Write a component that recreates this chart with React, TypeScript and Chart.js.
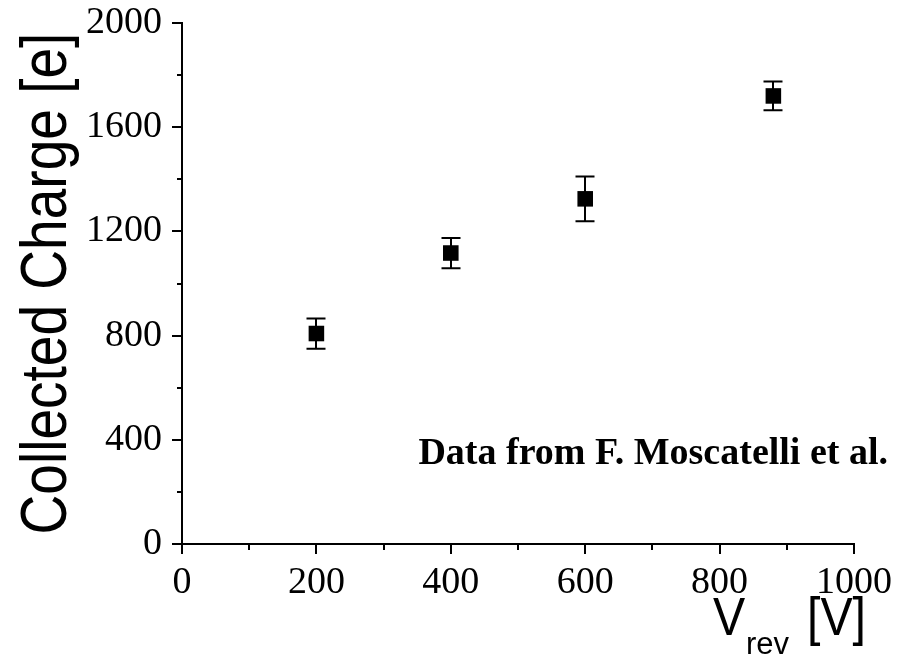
import React, { useEffect, useRef } from "react";
import { Chart, registerables } from "chart.js";

Chart.register(...registerables);

// Reverse bias voltage [V] and collected charge [e] with its uncertainty
const voltages = [200, 400, 600, 880];
const charges = [808, 1117, 1325, 1720];
const chargeErrors = [58, 58, 86, 55];

// Axis ranges and tick spacing
const xMin = 0;
const xMax = 1000;
const xMajorStep = 200;
const xMinorTicks = [100, 300, 500, 700, 900];
const yMin = 0;
const yMax = 2000;
const yMajorStep = 400;
const yMinorTicks = [200, 600, 1000, 1400, 1800];

// Texts
const yTitle = "Collected Charge [e]";
const xTitleSymbol = "V";
const xTitleSubscript = "rev";
const xTitleUnit = "[V]";
const sourceNote = "Data from F. Moscatelli et al.";

const SANS = '"Liberation Sans", Arial, sans-serif';
const SERIF = '"Liberation Serif", "Times New Roman", serif';

const decorations = {
  id: "decorations",
  beforeDatasetsDraw(chart: any) {
    const { ctx, scales } = chart;
    const x = scales.x;
    const y = scales.y;
    ctx.save();
    ctx.strokeStyle = "#000";
    ctx.lineWidth = 2;
    const cap = 9.5;
    voltages.forEach((v, i) => {
      const px = Math.round(x.getPixelForValue(v));
      const top = y.getPixelForValue(charges[i] + chargeErrors[i]);
      const bot = y.getPixelForValue(charges[i] - chargeErrors[i]);
      ctx.beginPath();
      ctx.moveTo(px, top);
      ctx.lineTo(px, bot);
      ctx.moveTo(px - cap, top);
      ctx.lineTo(px + cap, top);
      ctx.moveTo(px - cap, bot);
      ctx.lineTo(px + cap, bot);
      ctx.stroke();
    });
    ctx.restore();
  },
  afterDraw(chart: any) {
    const { ctx, scales, chartArea } = chart;
    const x = scales.x;
    const y = scales.y;
    ctx.save();

    // minor ticks, outside the axes
    ctx.strokeStyle = "#000";
    ctx.lineWidth = 2;
    ctx.beginPath();
    xMinorTicks.forEach((v) => {
      const px = Math.round(x.getPixelForValue(v));
      ctx.moveTo(px, chartArea.bottom);
      ctx.lineTo(px, chartArea.bottom + 6);
    });
    yMinorTicks.forEach((v) => {
      const py = Math.round(y.getPixelForValue(v));
      ctx.moveTo(chartArea.left, py);
      ctx.lineTo(chartArea.left - 5, py);
    });
    ctx.stroke();

    ctx.fillStyle = "#000";

    // y title, rotated
    ctx.save();
    ctx.translate(chartArea.left - 116, (chartArea.top + chartArea.bottom) / 2);
    ctx.rotate(-Math.PI / 2);
    ctx.scale(0.86, 1);
    ctx.font = `64px ${SANS}`;
    ctx.textAlign = "center";
    ctx.textBaseline = "alphabetic";
    ctx.fillText(yTitle, 0, 0);
    ctx.restore();

    // x title with subscript
    ctx.textAlign = "left";
    ctx.textBaseline = "alphabetic";
    const base = chart.height - 21;
    ctx.save();
    ctx.translate(chartArea.right - 141, base);
    ctx.scale(0.91, 1);
    ctx.font = `53px ${SANS}`;
    ctx.fillText(xTitleSymbol, 0, 0);
    ctx.restore();
    ctx.font = `31px ${SANS}`;
    ctx.fillText(xTitleSubscript, chartArea.right - 108, base + 19);
    ctx.save();
    ctx.translate(chartArea.right - 47, base);
    ctx.scale(0.91, 1);
    ctx.font = `53px ${SANS}`;
    ctx.fillText(xTitleUnit, 0, 0);
    ctx.restore();

    // source note
    ctx.font = `bold 38px ${SERIF}`;
    ctx.textAlign = "right";
    ctx.textBaseline = "alphabetic";
    ctx.fillText(sourceNote, chartArea.right + 34, y.getPixelForValue(307));

    ctx.restore();
  },
};

export default function App() {
  const canvasRef = useRef<HTMLCanvasElement | null>(null);

  useEffect(() => {
    const canvas = canvasRef.current;
    if (!canvas) return;
    const tickFont = { family: SERIF, size: 38 };
    const plainLabel = (value: any) => String(value);
    const chart = new Chart(canvas, {
      type: "scatter",
      data: {
        datasets: [
          {
            label: "Collected charge",
            data: voltages.map((v, i) => ({ x: v, y: charges[i] })),
            pointStyle: "rect",
            pointRadius: 11,
            pointHoverRadius: 11,
            backgroundColor: "#000",
            borderColor: "#000",
            borderWidth: 0,
            showLine: false,
          },
        ],
      },
      options: {
        responsive: false,
        animation: false,
        devicePixelRatio: 1,
        events: [],
        layout: { padding: { top: 23, right: 53, left: 0, bottom: 0 } },
        plugins: {
          legend: { display: false },
          tooltip: { enabled: false },
          title: { display: false },
        },
        scales: {
          x: {
            type: "linear",
            min: xMin,
            max: xMax,
            grid: {
              display: true,
              drawOnChartArea: false,
              drawTicks: true,
              tickLength: 10,
              color: "#000",
              lineWidth: 2,
            },
            border: { display: true, color: "#000", width: 2 },
            ticks: {
              stepSize: xMajorStep,
              color: "#000",
              font: tickFont,
              padding: 6,
              maxRotation: 0,
              autoSkip: false,
              callback: plainLabel,
            },
            afterFit: (scale: any) => {
              scale.height = 112;
              scale.paddingLeft = 0;
              scale.paddingRight = 0;
            },
          },
          y: {
            type: "linear",
            min: yMin,
            max: yMax,
            grid: {
              display: true,
              drawOnChartArea: false,
              drawTicks: true,
              tickLength: 10,
              color: "#000",
              lineWidth: 2,
            },
            border: { display: true, color: "#000", width: 2 },
            ticks: {
              stepSize: yMajorStep,
              color: "#000",
              font: tickFont,
              padding: 10,
              autoSkip: false,
              callback: plainLabel,
            },
            afterFit: (scale: any) => {
              scale.width = 182;
              scale.paddingTop = 0;
              scale.paddingBottom = 0;
            },
          },
        },
      },
      plugins: [decorations],
    });
    return () => chart.destroy();
  }, []);

  return (
    <div style={{ position: "fixed", left: 0, top: 0, width: 907, height: 656, background: "#fff" }}>
      <canvas ref={canvasRef} width={907} height={656} />
    </div>
  );
}
